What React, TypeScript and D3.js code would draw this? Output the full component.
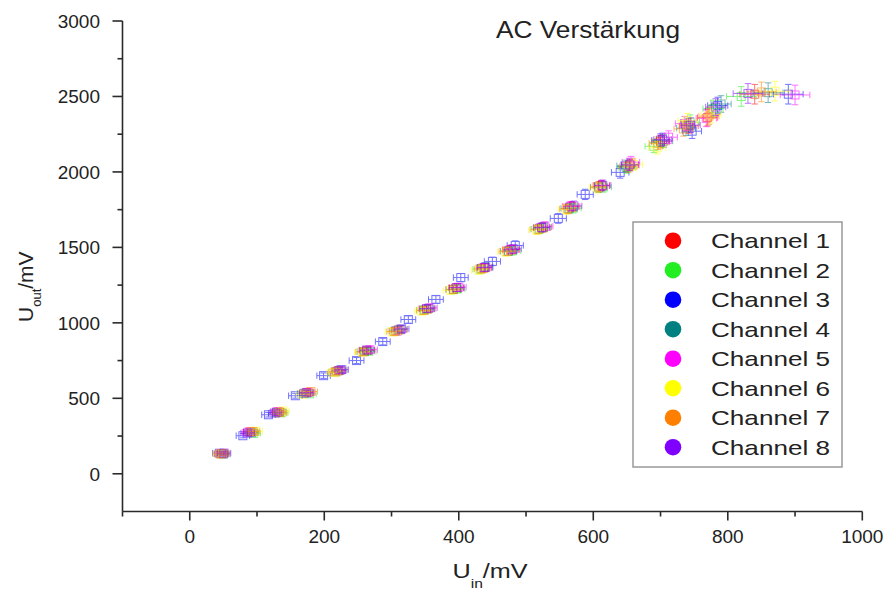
import React from "react";
import * as d3 from "d3";

const channels = ["Channel 1", "Channel 2", "Channel 3", "Channel 4", "Channel 5", "Channel 6", "Channel 7", "Channel 8"];
const colors = ["#ff0000", "#22ee22", "#0000ff", "#008080", "#ff00ff", "#ffff00", "#ff8000", "#8000ff"];

const ch1X = [46, 90, 133, 174, 222, 264, 311, 353, 396, 437, 478, 524, 568, 612, 655, 700, 742, 770, 840];
const ch1Y = [132, 278, 410, 538, 684, 818, 954, 1092, 1232, 1364, 1486, 1630, 1770, 1910, 2045, 2200, 2305, 2360, 2515];
const ch2X = [48, 95, 136, 178, 218, 266, 306, 349, 398, 432, 480, 520, 570, 615, 650, 690, 744, 778, 820];
const ch2Y = [134, 268, 404, 530, 676, 812, 946, 1085, 1225, 1356, 1478, 1622, 1760, 1900, 2030, 2170, 2330, 2420, 2500];
const ch3X = [44, 79, 117, 157, 199, 248, 287, 325, 366, 403, 450, 484, 548, 588, 640, 700, 747, 785, 890];
const ch3Y = [136, 252, 391, 517, 650, 750, 876, 1022, 1155, 1300, 1407, 1513, 1692, 1851, 1997, 2210, 2270, 2440, 2515];
const ch4X = [50, 92, 129, 170, 224, 260, 313, 355, 392, 440, 474, 526, 564, 608, 648, 705, 738, 790, 860];
const ch4Y = [130, 272, 406, 533, 688, 810, 958, 1096, 1220, 1370, 1475, 1635, 1758, 1898, 2040, 2205, 2290, 2450, 2525];
const ch5X = [47, 88, 130, 176, 221, 268, 308, 357, 400, 438, 477, 528, 566, 612, 656, 712, 736, 768, 900];
const ch5Y = [133, 276, 412, 540, 682, 822, 945, 1100, 1236, 1366, 1484, 1640, 1772, 1908, 2065, 2230, 2320, 2355, 2510];
const ch6X = [45, 98, 138, 168, 214, 256, 302, 345, 388, 430, 470, 516, 560, 606, 660, 695, 740, 775, 870];
const ch6Y = [131, 282, 416, 527, 670, 805, 940, 1078, 1215, 1350, 1470, 1615, 1752, 1895, 2050, 2160, 2340, 2380, 2535];
const ch7X = [49, 94, 134, 180, 216, 258, 304, 348, 392, 434, 472, 518, 562, 608, 652, 696, 734, 772, 850];
const ch7Y = [135, 280, 405, 545, 675, 808, 942, 1082, 1222, 1358, 1474, 1620, 1755, 1902, 2035, 2190, 2285, 2370, 2530];
const ch8X = [51, 86, 127, 173, 226, 263, 315, 352, 397, 439, 481, 523, 571, 614, 654, 703, 745, 782, 830];
const ch8Y = [137, 270, 402, 536, 690, 820, 960, 1094, 1234, 1368, 1490, 1632, 1775, 1912, 2048, 2215, 2310, 2430, 2520];

const xErr = [10, 10, 10, 10, 10, 11, 11, 11, 11, 11, 12, 12, 12, 12, 13, 13, 14, 15, 22];
const yErr = [12, 14, 15, 16, 18, 20, 22, 24, 25, 27, 28, 30, 32, 34, 38, 42, 48, 55, 65];

const xTicks = [0, 200, 400, 600, 800, 1000];
const xMinor = [-100, 100, 300, 500, 700, 900];
const yTicks = [0, 500, 1000, 1500, 2000, 2500, 3000];
const yMinor = [250, 750, 1250, 1750, 2250, 2750];

const seriesX = [ch1X, ch2X, ch3X, ch4X, ch5X, ch6X, ch7X, ch8X];
const seriesY = [ch1Y, ch2Y, ch3Y, ch4Y, ch5Y, ch6Y, ch7Y, ch8Y];

const W = 887, H = 590;
const font = "Liberation Sans, Arial, sans-serif";
const axisColor = "#2a2a2a";

export default function App() {
  const x = d3.scaleLinear().domain([-100, 1000]).range([122.5, 862.3]);
  const y = d3.scaleLinear().domain([-250, 3000]).range([511.5, 21]);
  const x0 = x(-100), y0 = y(-250);

  const drawOrder = [2, 0, 1, 3, 4, 5, 6, 7];

  return (
    <svg width={W} height={H} style={{ position: "absolute", left: 0, top: 0, background: "#fff" }} fontFamily={font}>
      <rect x={0} y={0} width={W} height={H} fill="#fff" />
      <g>
        {drawOrder.map((c) =>
          seriesX[c].map((xv, i) => {
            const cx = x(xv), cy = y(seriesY[c][i]);
            const xl = x(xv - xErr[i]), xr = x(xv + xErr[i]);
            const yt = y(seriesY[c][i] + yErr[i]), yb = y(seriesY[c][i] - yErr[i]);
            const cap = 3.2, s = 4;
            return (
              <g key={c + "-" + i} stroke={colors[c]} strokeWidth={1} fill="none" opacity={0.55}>
                <line x1={xl} x2={xr} y1={cy} y2={cy} />
                <line x1={xl} x2={xl} y1={cy - cap} y2={cy + cap} />
                <line x1={xr} x2={xr} y1={cy - cap} y2={cy + cap} />
                <line x1={cx} x2={cx} y1={yt} y2={yb} />
                <line x1={cx - cap} x2={cx + cap} y1={yt} y2={yt} />
                <line x1={cx - cap} x2={cx + cap} y1={yb} y2={yb} />
                <rect x={cx - s} y={cy - s} width={2 * s} height={2 * s} />
              </g>
            );
          })
        )}
      </g>
      <g stroke={axisColor} strokeWidth={1.6}>
        <line x1={x0} x2={x(1000)} y1={y0} y2={y0} />
        <line x1={x0} x2={x0} y1={y0} y2={y(3000)} />
        {xTicks.map((t) => <line key={"xt" + t} x1={x(t)} x2={x(t)} y1={y0} y2={y0 + 9} />)}
        {xMinor.map((t) => <line key={"xm" + t} x1={x(t)} x2={x(t)} y1={y0} y2={y0 + 5} />)}
        {yTicks.map((t) => <line key={"yt" + t} x1={x0} x2={x0 - 10} y1={y(t)} y2={y(t)} />)}
        {yMinor.map((t) => <line key={"ym" + t} x1={x0} x2={x0 - 5} y1={y(t)} y2={y(t)} />)}
      </g>
      <g fill="#222" fontSize={19}>
        {xTicks.map((t) => (
          <text key={"xl" + t} x={x(t)} y={543} textAnchor="middle">{t}</text>
        ))}
        {yTicks.map((t) => (
          <text key={"yl" + t} x={100} y={y(t) + 6.8} textAnchor="end">{t}</text>
        ))}
      </g>
      <text transform="translate(452.5,578) scale(1.2,1)" fontSize={21} fill="#222">
        U<tspan fontSize={13} dy={10}>in</tspan><tspan dy={-10}>/mV</tspan>
      </text>
      <text transform="translate(33,322) rotate(-90)" fontSize={21} fill="#222">
        U<tspan fontSize={13} dy={8}>out</tspan><tspan dy={-8}>/mV</tspan>
      </text>
      <text x={496} y={38} fontSize={24} fill="#222" textLength={184} lengthAdjust="spacingAndGlyphs">AC Verstärkung</text>
      <g>
        <rect x={633} y={222} width={209} height={245} fill="#fff" stroke="#999" strokeWidth={1.5} />
        {channels.map((name, i) => {
          const cy = 240.7 + i * 29.5;
          return (
            <g key={name}>
              <circle cx={673} cy={cy} r={8.3} fill={colors[i]} />
              <text x={711} y={cy + 7.6} fontSize={21} fill="#222" textLength={119} lengthAdjust="spacingAndGlyphs">{name}</text>
            </g>
          );
        })}
      </g>
    </svg>
  );
}
